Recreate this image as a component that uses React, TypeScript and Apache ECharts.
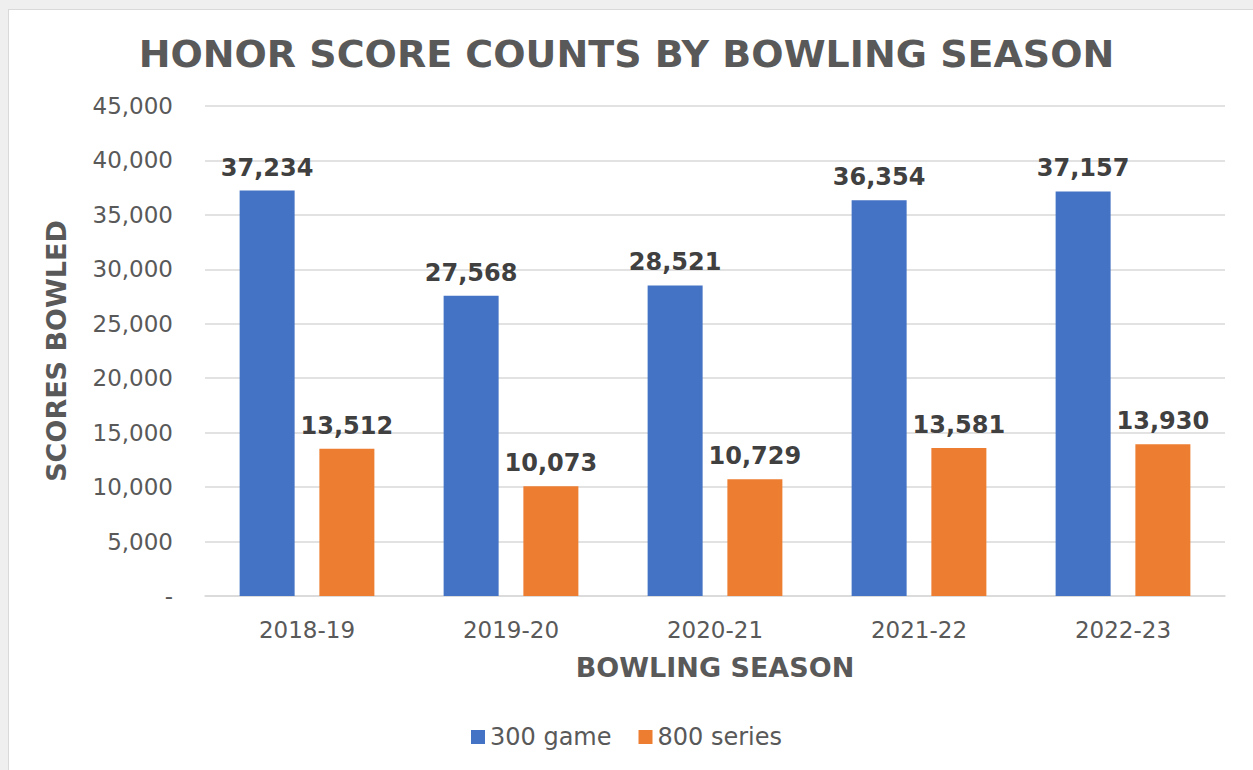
import React, { useEffect, useRef } from "react";
import * as echarts from "echarts";

const seasons = ["2018-19", "2019-20", "2020-21", "2021-22", "2022-23"];
const games300 = [37234, 27568, 28521, 36354, 37157];
const series800 = [13512, 10073, 10729, 13581, 13930];
const yTicks = { min: 0, max: 45000, interval: 5000 };

const FONT = "'DejaVu Sans', Verdana, sans-serif";
const fmt = (v: number) => (v === 0 ? "-" : String(v).replace(/\B(?=(\d{3})+(?!\d))/g, ","));

export default function App() {
  const ref = useRef<HTMLDivElement>(null);
  useEffect(() => {
    if (!ref.current) return;
    const chart = echarts.init(ref.current, undefined, { renderer: "svg" });
    const label = {
      show: true,
      position: "top",
      distance: 11,
      fontFamily: FONT,
      fontWeight: "bold",
      fontSize: 24,
      color: "#404040",
      formatter: (p: any) => fmt(p.value),
    };
    chart.setOption({
      animation: false,
      textStyle: { fontFamily: FONT },
      title: {
        text: "HONOR SCORE COUNTS BY BOWLING SEASON",
        left: "center",
        top: 30,
        textStyle: { fontFamily: FONT, fontWeight: "bold", fontSize: 38, color: "#595959" },
      },
      legend: {
        bottom: 16,
        left: "center",
        itemWidth: 14,
        itemHeight: 14,
        itemGap: 27,
        icon: "rect",
        textStyle: { fontFamily: FONT, fontSize: 24, color: "#595959" },
        data: ["300 game", "800 series"],
      },
      grid: { left: 205, right: 28, top: 106, bottom: 174, containLabel: false },
      xAxis: {
        type: "category",
        data: seasons,
        name: "BOWLING SEASON",
        nameLocation: "middle",
        nameGap: 58,
        nameTextStyle: { fontFamily: FONT, fontWeight: "bold", fontSize: 27, color: "#595959" },
        axisLine: { lineStyle: { color: "#d9d9d9", width: 1.5 } },
        axisTick: { show: false },
        axisLabel: { fontFamily: FONT, fontSize: 23, color: "#595959", margin: 22 },
      },
      yAxis: {
        type: "value",
        min: yTicks.min,
        max: yTicks.max,
        interval: yTicks.interval,
        name: "SCORES BOWLED",
        nameLocation: "middle",
        nameGap: 135,
        nameTextStyle: { fontFamily: FONT, fontWeight: "bold", fontSize: 27, color: "#595959" },
        axisLine: { show: false },
        axisTick: { show: false },
        splitLine: { lineStyle: { color: "#d9d9d9", width: 1.5 } },
        axisLabel: { fontFamily: FONT, fontSize: 23, color: "#595959", margin: 32, formatter: fmt },
      },
      series: [
        {
          name: "300 game",
          type: "bar",
          data: games300,
          barWidth: 55,
          barGap: "45%",
          itemStyle: { color: "#4472C4" },
          label,
        },
        {
          name: "800 series",
          type: "bar",
          data: series800,
          barWidth: 55,
          itemStyle: { color: "#ED7D31" },
          label,
        },
      ],
    });
    return () => chart.dispose();
  }, []);
  return (
    <div style={{ position: "fixed", left: 0, top: 0, width: 1253, height: 770, background: "#efefef", overflow: "hidden" }}>
      <div
        style={{
          position: "absolute",
          left: 8,
          top: 9,
          width: 1260,
          height: 780,
          background: "#ffffff",
          border: "1px solid #d9d9d9",
        }}
      />
      <div ref={ref} style={{ position: "absolute", left: 0, top: 0, width: 1253, height: 770 }} />
    </div>
  );
}
